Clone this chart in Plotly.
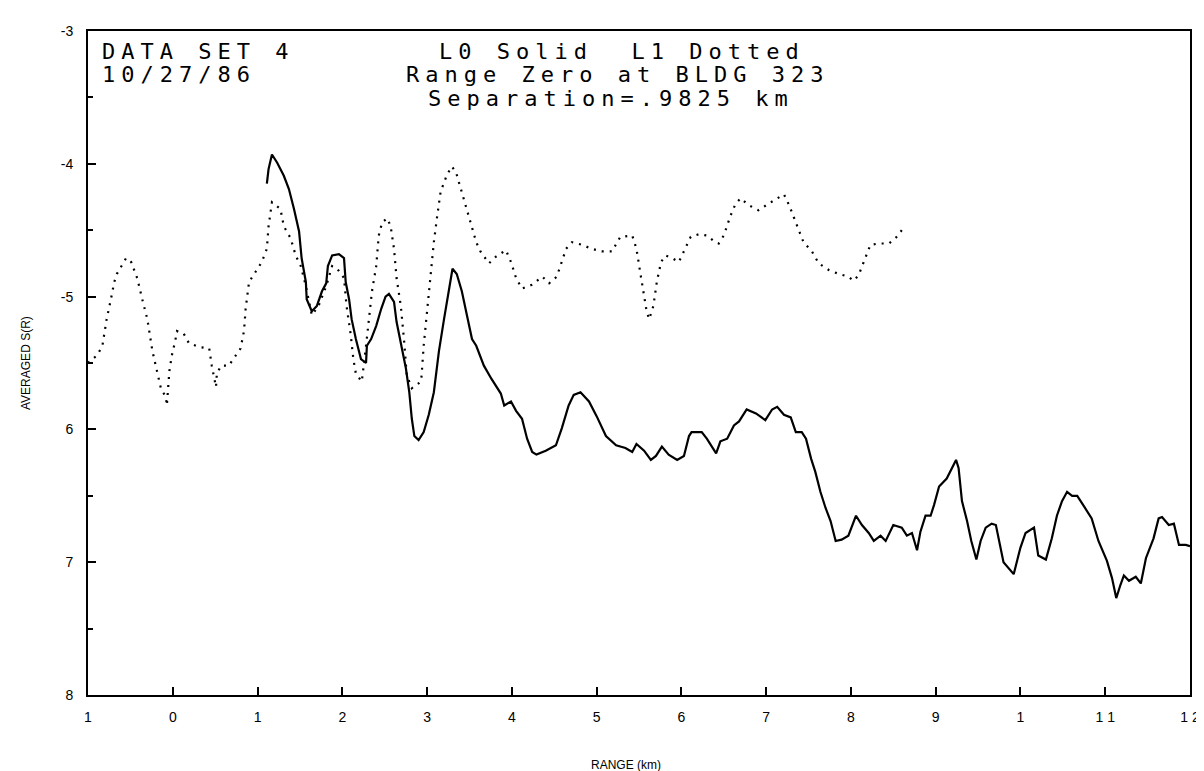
import plotly.graph_objects as go

# ---- data ----
l1_x = [-1.00, -0.89, -0.83, -0.78, -0.73, -0.69, -0.66, -0.55, -0.49, -0.42, -0.36, -0.30, -0.24, -0.19,
        -0.14, -0.08, -0.07, -0.04, -0.01, 0.03, 0.05, 0.13, 0.19, 0.31, 0.43, 0.46, 0.51, 0.52, 0.57, 0.66,
        0.75, 0.80, 0.84, 0.86, 0.90, 0.98, 1.05, 1.11, 1.13, 1.17, 1.21, 1.27, 1.31, 1.39, 1.45, 1.51, 1.57,
        1.63, 1.64, 1.72, 1.81, 1.88, 1.94, 2.02, 2.05, 2.10, 2.13, 2.16, 2.23, 2.28, 2.31, 2.35, 2.40, 2.43,
        2.47, 2.53, 2.57, 2.61, 2.64, 2.69, 2.73, 2.76, 2.82, 2.93, 2.96, 3.00, 3.04, 3.08, 3.12, 3.16, 3.23,
        3.29, 3.34, 3.40, 3.46, 3.52, 3.58, 3.63, 3.73, 3.81, 3.93, 3.99, 4.05, 4.12, 4.24, 4.36, 4.44, 4.53,
        4.59, 4.64, 4.71, 4.83, 4.94, 5.06, 5.18, 5.24, 5.28, 5.42, 5.47, 5.52, 5.56, 5.59, 5.62, 5.67, 5.71,
        5.76, 5.81, 5.89, 5.97, 6.03, 6.11, 6.21, 6.30, 6.38, 6.44, 6.50, 6.58, 6.64, 6.70, 6.79, 6.91, 7.03,
        7.15, 7.21, 7.27, 7.33, 7.39, 7.44, 7.54, 7.62, 7.74, 7.86, 7.97, 8.03, 8.09, 8.15, 8.23, 8.33, 8.45,
        8.54, 8.60]
l1_y = [-5.50, -5.44, -5.37, -5.17, -5.02, -4.89, -4.83, -4.71, -4.74, -4.86, -5.02, -5.17, -5.41, -5.56,
        -5.69, -5.76, -5.82, -5.56, -5.44, -5.33, -5.26, -5.28, -5.35, -5.38, -5.39, -5.52, -5.68, -5.58, -5.52, -5.52,
        -5.44, -5.39, -5.26, -5.09, -4.89, -4.81, -4.74, -4.64, -4.47, -4.29, -4.31, -4.34, -4.47, -4.56, -4.69, -4.77, -4.92,
        -5.11, -5.14, -5.07, -4.92, -4.77, -4.79, -4.86, -5.07, -5.29, -5.47, -5.58, -5.64, -5.37, -5.17, -4.96, -4.77, -4.54,
        -4.44, -4.41, -4.47, -4.64, -4.86, -5.07, -5.34, -5.59, -5.69, -5.64, -5.37, -5.09, -4.84, -4.59, -4.39, -4.21, -4.09,
        -4.02, -4.06, -4.19, -4.31, -4.45, -4.59, -4.66, -4.75, -4.70, -4.65, -4.74, -4.86, -4.94, -4.91, -4.85, -4.90, -4.85,
        -4.74, -4.64, -4.59, -4.61, -4.64, -4.66, -4.66, -4.59, -4.55, -4.54, -4.64, -4.84, -5.01, -5.11, -5.17, -5.07, -4.89,
        -4.74, -4.69, -4.71, -4.74, -4.66, -4.55, -4.53, -4.54, -4.58, -4.60, -4.54, -4.39, -4.30, -4.26, -4.31, -4.35, -4.30,
        -4.25, -4.23, -4.31, -4.41, -4.51, -4.59, -4.66, -4.75, -4.80, -4.83, -4.85, -4.88, -4.84, -4.74, -4.61, -4.60, -4.60,
        -4.55, -4.50]

l0_x = [1.11, 1.13, 1.17, 1.23, 1.31, 1.37, 1.43, 1.49, 1.52, 1.57, 1.58, 1.61, 1.64, 1.70, 1.76, 1.81, 1.83,
        1.88, 1.96, 2.02, 2.04, 2.08, 2.11, 2.16, 2.22, 2.28, 2.29, 2.34, 2.40, 2.46, 2.51, 2.55, 2.61, 2.64,
        2.70, 2.75, 2.79, 2.82, 2.85, 2.90, 2.96, 3.02, 3.08, 3.14, 3.20, 3.26, 3.30, 3.35, 3.41, 3.47, 3.53,
        3.58, 3.67, 3.76, 3.87, 3.91, 3.99, 4.05, 4.12, 4.18, 4.24, 4.29, 4.40, 4.52, 4.59, 4.67, 4.73, 4.81,
        4.91, 5.00, 5.11, 5.23, 5.34, 5.42, 5.47, 5.56, 5.64, 5.70, 5.77, 5.85, 5.95, 6.03, 6.09, 6.12, 6.24,
        6.30, 6.41, 6.46, 6.54, 6.62, 6.68, 6.77, 6.88, 6.99, 7.07, 7.13, 7.21, 7.29, 7.35, 7.42, 7.47, 7.53,
        7.58, 7.64, 7.70, 7.76, 7.82, 7.89, 7.97, 8.06, 8.13, 8.21, 8.27, 8.35, 8.41, 8.50, 8.60, 8.66, 8.72,
        8.78, 8.82, 8.88, 8.94, 8.98, 9.04, 9.13, 9.24, 9.27, 9.31, 9.37, 9.42, 9.48, 9.53, 9.59, 9.66, 9.71,
        9.77, 9.80, 9.92, 10.00, 10.06, 10.16, 10.21, 10.30, 10.37, 10.43, 10.49, 10.55, 10.61, 10.67, 10.75,
        10.84, 10.92, 11.02, 11.08, 11.13, 11.18, 11.22, 11.28, 11.36, 11.42, 11.48, 11.57, 11.63, 11.67, 11.75,
        11.81, 11.87, 11.95, 12.00]
l0_y = [-4.15, -4.04, -3.93, -3.99, -4.09, -4.19, -4.34, -4.51, -4.71, -4.89, -5.02, -5.07, -5.11, -5.07, -4.96, -4.90, -4.77,
        -4.69, -4.68, -4.71, -4.89, -5.02, -5.17, -5.32, -5.47, -5.50, -5.37, -5.32, -5.22, -5.09, -5.00, -4.98, -5.04, -5.19,
        -5.37, -5.54, -5.72, -5.92, -6.05, -6.08, -6.02, -5.89, -5.72, -5.41, -5.17, -4.94, -4.79, -4.83, -4.96, -5.14, -5.32,
        -5.37, -5.52, -5.62, -5.73, -5.82, -5.79, -5.86, -5.92, -6.07, -6.17, -6.19, -6.16, -6.12, -5.99, -5.82, -5.74, -5.72,
        -5.79, -5.90, -6.05, -6.12, -6.14, -6.17, -6.11, -6.16, -6.23, -6.20, -6.13, -6.19, -6.23, -6.20, -6.05, -6.02, -6.02,
        -6.07, -6.18, -6.09, -6.07, -5.97, -5.94, -5.85, -5.88, -5.93, -5.85, -5.83, -5.89, -5.91, -6.02, -6.02, -6.07, -6.22,
        -6.32, -6.47, -6.59, -6.69, -6.84, -6.83, -6.80, -6.65, -6.72, -6.78, -6.84, -6.80, -6.84, -6.72, -6.74, -6.80, -6.78,
        -6.91, -6.77, -6.65, -6.65, -6.57, -6.43, -6.37, -6.23, -6.29, -6.54, -6.69, -6.84, -6.98, -6.84, -6.74, -6.71, -6.72,
        -6.89, -7.00, -7.09, -6.89, -6.78, -6.74, -6.95, -6.98, -6.82, -6.65, -6.54, -6.47, -6.50, -6.50, -6.58,
        -6.67, -6.84, -6.99, -7.12, -7.27, -7.17, -7.10, -7.14, -7.11, -7.16, -6.97, -6.82, -6.67, -6.66, -6.72,
        -6.71, -6.87, -6.87, -6.88]

x_tick_vals = [-1, 0, 1, 2, 3, 4, 5, 6, 7, 8, 9, 10, 11, 12]
x_tick_text = ["1", "0", "1", "2", "3", "4", "5", "6", "7", "8", "9", "1", "1 1", "1 2"]
y_tick_vals = [-3, -4, -5, -6, -7, -8]
y_tick_text = ["-3", "-4", "-5", "6", "7", "8"]

header_left = ["DATA SET 4", "10/27/86"]
header_center = ["L0 Solid  L1 Dotted", "Range Zero at BLDG 323", "Separation=.9825 km"]

fig = go.Figure()
fig.add_trace(go.Scatter(x=l1_x, y=l1_y, mode="lines", name="L1",
                         line=dict(color="black", width=2.2, dash="2px,6px"), showlegend=False))
fig.add_trace(go.Scatter(x=l0_x, y=l0_y, mode="lines", name="L0",
                         line=dict(color="black", width=2.2), showlegend=False))

tickfont = dict(family="Liberation Sans, Arial, sans-serif", size=14, color="black")
fig.update_xaxes(range=[-1, 12], tickvals=x_tick_vals, ticktext=x_tick_text, showgrid=False, zeroline=False,
                 showline=True, linecolor="black", linewidth=2, mirror=True,
                 ticks="inside", ticklen=8, tickwidth=2, tickcolor="black", tickfont=tickfont,
                 ticklabelstandoff=8)
fig.update_yaxes(range=[-8, -3], tickvals=y_tick_vals, ticktext=y_tick_text, showgrid=False, zeroline=False,
                 showline=True, linecolor="black", linewidth=2, mirror=True,
                 ticks="inside", ticklen=8, tickwidth=2, tickcolor="black", tickfont=tickfont,
                 ticklabelstandoff=10,
                 minor=dict(tickvals=[-3.5, -4.5, -5.5, -6.5, -7.5], ticks="inside", ticklen=5, tickwidth=2,
                            tickcolor="black", showgrid=False))

mono = dict(family="DejaVu Sans Mono, monospace", size=22, color="black")
def spaced(t):
    return '<span style="letter-spacing:6px">' + t + '</span>'

left_pos = [(92, 43), (92, 66)]
for t, (xx, yy) in zip(header_left, left_pos):
    fig.add_annotation(text=spaced(t), xref="paper", yref="paper", x=(xx - 80) / 1102, y=1 - (yy - 23) / 664,
                       xanchor="left", yanchor="middle", showarrow=False, font=mono)
center_pos = [(429, 43), (396, 66), (418, 90)]
for t, (xx, yy) in zip(header_center, center_pos):
    fig.add_annotation(text=spaced(t), xref="paper", yref="paper", x=(xx - 80) / 1102, y=1 - (yy - 23) / 664,
                       xanchor="left", yanchor="middle", showarrow=False, font=mono)

labfont = dict(family="Liberation Sans, Arial, sans-serif", size=12, color="black")
fig.add_annotation(text="AVERAGED S(R)", xref="paper", yref="paper", x=(18 - 80) / 1102, y=1 - (355 - 23) / 664,
                   textangle=-90, xanchor="center", yanchor="middle", showarrow=False, font=labfont)
fig.add_annotation(text="RANGE (km)", xref="paper", yref="paper", x=(618 - 80) / 1102, y=1 - (757 - 23) / 664,
                   xanchor="center", yanchor="middle", showarrow=False, font=labfont)

fig.update_layout(width=1204, height=771, margin=dict(l=80, r=22, t=23, b=84),
                  plot_bgcolor="white", paper_bgcolor="white", showlegend=False)

fig.write_html("out.html")
